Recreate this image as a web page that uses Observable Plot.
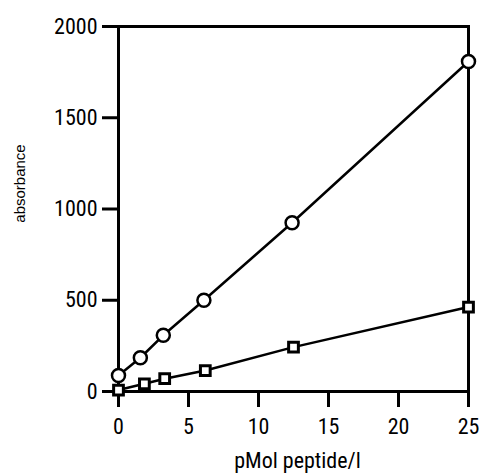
<!DOCTYPE html>
<html><head><meta charset="utf-8">
<script src="https://cdn.jsdelivr.net/npm/d3@7"></script>
<script src="https://cdn.jsdelivr.net/npm/@observablehq/plot@0.6"></script>
<style>body{margin:0;background:#fff}</style>
</head><body><div id="chart"></div>
<script>
const circleX = [0, 1.56, 3.2, 6.1, 12.4, 25];
const circleY = [88, 185, 308, 500, 925, 1808];
const squareX = [0, 1.85, 3.3, 6.2, 12.5, 25];
const squareY = [8, 42, 70, 115, 243, 463];
const xTicks = [0, 5, 10, 15, 20, 25];
const yTicks = [0, 500, 1000, 1500, 2000];
const xLabel = "pMol peptide/l";
const yLabel = "absorbance";

const circles = circleX.map((x, i) => ({x, y: circleY[i]}));
const squares = squareX.map((x, i) => ({x, y: squareY[i]}));
const narrow = "'Roboto Condensed', 'DejaVu Sans Condensed', sans-serif";
const regular = "'Liberation Sans', Arial, sans-serif";

const chart = Plot.plot({
  width: 480,
  height: 476,
  marginLeft: 118,
  marginRight: 12,
  marginTop: 26,
  marginBottom: 85,
  style: {fontFamily: narrow, fontSize: "22px", color: "#000", background: "#fff"},
  x: {domain: [0, 25], nice: false},
  y: {domain: [0, 2000], nice: false},
  marks: [
    Plot.frame({stroke: "#000", strokeWidth: 3}),
    Plot.axisX({ticks: xTicks, tickSize: 16, tickPadding: 11, strokeWidth: 3, tickFormat: d => String(d), label: null, fontSize: 22, fontFamily: narrow}),
    Plot.axisY({ticks: yTicks, tickSize: 16, tickPadding: 5, strokeWidth: 3, tickFormat: d => String(d), label: null, fontSize: 22, fontFamily: narrow}),
    Plot.line(circles, {x: "x", y: "y", stroke: "#000", strokeWidth: 2.5}),
    Plot.line(squares, {x: "x", y: "y", stroke: "#000", strokeWidth: 2.5}),
    Plot.dot(circles, {x: "x", y: "y", r: 6.5, symbol: "circle", fill: "#fff", stroke: "#000", strokeWidth: 2.5}),
    Plot.dot(squares, {x: "x", y: "y", r: 5.5, symbol: "square", fill: "#fff", stroke: "#000", strokeWidth: 3}),
    Plot.text([xLabel], {frameAnchor: "bottom", textAnchor: "middle", dx: 4, dy: 76, fontSize: 22, fontFamily: narrow, fill: "#000"}),
    Plot.text([yLabel], {frameAnchor: "left", textAnchor: "middle", rotate: -90, dx: -98.5, dy: -25.5, fontSize: 15, fontFamily: regular, fill: "#000"})
  ]
});
document.getElementById("chart").append(chart);
</script>
</body></html>
